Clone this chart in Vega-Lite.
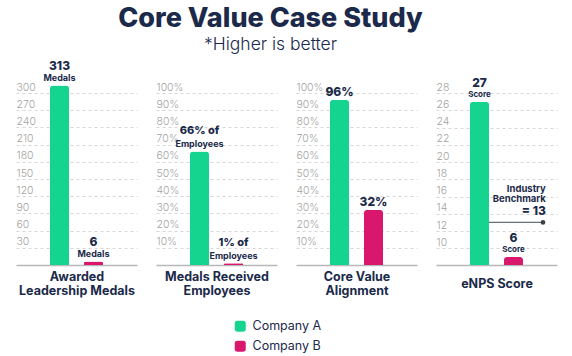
{
  "$schema": "https://vega.github.io/schema/vega-lite/v6.json",
  "background": "white",
  "padding": {"left": 16, "top": 5, "right": 10, "bottom": 0},
  "title": {
    "text": "Core Value Case Study",
    "subtitle": "*Higher is better",
    "anchor": "middle",
    "dx": -16,
    "font": "Inter",
    "fontSize": 27,
    "fontWeight": 800,
    "color": "#1B2A4A",
    "subtitleFont": "Inter",
    "subtitleFontSize": 17.5,
    "subtitleFontWeight": 300,
    "subtitleColor": "#1B2A4A",
    "subtitlePadding": 3,
    "offset": 5
  },
  "data": {
    "values": [
      {"panel": "medals", "company": "A", "value": 313, "line1": "313", "line2": "Medals"},
      {"panel": "medals", "company": "B", "value": 6, "line1": "6", "line2": "Medals"},
      {"panel": "received", "company": "A", "value": 66, "line1": "66% of", "line2": "Employees"},
      {"panel": "received", "company": "B", "value": 1, "line1": "1% of", "line2": "Employees"},
      {"panel": "alignment", "company": "A", "value": 96, "line1": "96%", "line2": ""},
      {"panel": "alignment", "company": "B", "value": 32, "line1": "32%", "line2": ""},
      {"panel": "enps", "company": "A", "value": 27, "line1": "27", "line2": "Score"},
      {"panel": "enps", "company": "B", "value": 6, "line1": "6", "line2": "Score"},
      {"panel": "bench", "from": "A", "to": "B", "value": 13, "line1": "= 13", "line2": "Industry\nBenchmark"}
    ]
  },
  "spacing": 19,
  "hconcat": [
    {
      "width": 121,
      "height": 172,
      "transform": [{"filter": "datum.panel === 'medals'"}],
      "encoding": {
        "x": {"field": "company", "type": "nominal", "scale": {"domain": ["A", "B"], "paddingInner": 0.44, "paddingOuter": 1.46}, "axis": {"title": ["Awarded", "Leadership Medals"], "titleY": 11}},
        "y": {"field": "value", "type": "quantitative", "scale": {"domain": [0, 300], "nice": false}, "axis": {"values": [30, 60, 90, 120, 150, 180, 210, 240, 270, 300], "title": null}}
      },
      "layer": [
        {
          "mark": {"type": "bar", "cornerRadiusTopLeft": 3, "cornerRadiusTopRight": 3},
          "encoding": {
            "color": {
              "field": "company", "type": "nominal",
              "scale": {"domain": ["A", "B"], "range": ["#14D48F", "#D9176C"]},
              "legend": {
                "orient": "none", "legendX": 218, "legendY": 227, "direction": "vertical", "title": null,
                "labelExpr": "'Company ' + datum.label",
                "symbolType": "M -0.55 -1 L 0.55 -1 Q 1 -1 1 -0.55 L 1 0.55 Q 1 1 0.55 1 L -0.55 1 Q -1 1 -1 0.55 L -1 -0.55 Q -1 -1 -0.55 -1 Z",
                "symbolSize": 121, "symbolStrokeWidth": 0, "symbolOpacity": 1,
                "labelFont": "Inter", "labelFontSize": 12.5, "labelColor": "#1B2A4A", "labelOffset": 6, "rowPadding": 7
              }
            }
          }
        },
        {"mark": {"type": "text", "dy": -20, "fontSize": 12, "fontWeight": 800, "color": "#1B2A4A"}, "encoding": {"text": {"field": "line1"}}},
        {"mark": {"type": "text", "dy": -7.5, "fontSize": 9, "fontWeight": 700, "color": "#1B2A4A"}, "encoding": {"text": {"field": "line2"}}}
      ]
    },
    {
      "width": 121,
      "height": 172,
      "transform": [{"filter": "datum.panel === 'received'"}],
      "encoding": {
        "x": {"field": "company", "type": "nominal", "scale": {"domain": ["A", "B"], "paddingInner": 0.44, "paddingOuter": 1.46}, "axis": {"title": ["Medals Received", "Employees"], "titleY": 11}},
        "y": {"field": "value", "type": "quantitative", "scale": {"domain": [0, 100], "nice": false}, "axis": {"values": [10, 20, 30, 40, 50, 60, 70, 80, 90, 100], "labelExpr": "datum.value + '%'", "title": null}}
      },
      "layer": [
        {"mark": {"type": "bar", "cornerRadiusTopLeft": 3, "cornerRadiusTopRight": 3}, "encoding": {"color": {"field": "company", "type": "nominal"}}},
        {"mark": {"type": "text", "dy": -20, "fontSize": 11, "fontWeight": 800, "color": "#1B2A4A"}, "encoding": {"text": {"field": "line1"}}},
        {"mark": {"type": "text", "dy": -7.5, "fontSize": 9, "fontWeight": 700, "color": "#1B2A4A"}, "encoding": {"text": {"field": "line2"}}}
      ]
    },
    {
      "width": 121,
      "height": 172,
      "transform": [{"filter": "datum.panel === 'alignment'"}],
      "encoding": {
        "x": {"field": "company", "type": "nominal", "scale": {"domain": ["A", "B"], "paddingInner": 0.44, "paddingOuter": 1.46}, "axis": {"title": ["Core Value", "Alignment"], "titleY": 11}},
        "y": {"field": "value", "type": "quantitative", "scale": {"domain": [0, 100], "nice": false}, "axis": {"values": [10, 20, 30, 40, 50, 60, 70, 80, 90, 100], "labelExpr": "datum.value + '%'", "title": null}}
      },
      "layer": [
        {"mark": {"type": "bar", "cornerRadiusTopLeft": 3, "cornerRadiusTopRight": 3}, "encoding": {"color": {"field": "company", "type": "nominal"}}},
        {"mark": {"type": "text", "dy": -7.5, "fontSize": 12, "fontWeight": 800, "color": "#1B2A4A"}, "encoding": {"text": {"field": "line1"}}}
      ]
    },
    {
      "width": 121,
      "height": 172,
      "encoding": {
        "x": {"field": "company", "type": "nominal", "scale": {"domain": ["A", "B"], "paddingInner": 0.44, "paddingOuter": 1.46}, "axis": {"title": "eNPS Score", "titleY": 18}},
        "y": {"field": "value", "type": "quantitative", "scale": {"domain": [0, 6, 10, 28], "range": [172, 164, 155.3, 0], "nice": false, "zero": false}, "axis": {"values": [10, 12, 14, 16, 18, 20, 22, 24, 26, 28], "title": null}}
      },
      "layer": [
        {"transform": [{"filter": "datum.panel === 'enps'"}], "mark": {"type": "bar", "cornerRadiusTopLeft": 3, "cornerRadiusTopRight": 3}, "encoding": {"color": {"field": "company", "type": "nominal"}}},
        {"transform": [{"filter": "datum.panel === 'enps'"}], "mark": {"type": "text", "dy": -19, "fontSize": 12, "fontWeight": 800, "color": "#1B2A4A"}, "encoding": {"text": {"field": "line1"}}},
        {"transform": [{"filter": "datum.panel === 'enps'"}], "mark": {"type": "text", "dy": -7, "fontSize": 8, "fontWeight": 700, "color": "#1B2A4A"}, "encoding": {"text": {"field": "line2"}}},
        {"transform": [{"filter": "datum.panel === 'bench'"}], "mark": {"type": "rule", "color": "#6B6F78", "strokeWidth": 1.2}, "encoding": {"x": {"field": "from", "type": "nominal", "bandPosition": 1}, "x2": {"field": "to", "bandPosition": 2.05}}},
        {"transform": [{"filter": "datum.panel === 'bench'"}], "mark": {"type": "point", "filled": true, "color": "#3A3F4A", "size": 22, "opacity": 1}, "encoding": {"x": {"field": "to", "type": "nominal", "bandPosition": 2.05}}},
        {"transform": [{"filter": "datum.panel === 'bench'"}], "mark": {"type": "text", "align": "right", "dy": -11, "fontSize": 12, "fontWeight": 800, "color": "#1B2A4A"}, "encoding": {"x": {"field": "to", "type": "nominal", "bandPosition": 2.2}, "text": {"field": "line1"}}},
        {"transform": [{"filter": "datum.panel === 'bench'"}], "mark": {"type": "text", "align": "right", "baseline": "middle", "dy": -33.5, "lineBreak": "\n", "lineHeight": 10.5, "fontSize": 9.5, "fontWeight": 700, "color": "#1B2A4A"}, "encoding": {"x": {"field": "to", "type": "nominal", "bandPosition": 2.2}, "text": {"field": "line2"}}}
      ]
    }
  ],
  "config": {
    "font": "Inter",
    "view": {"stroke": null},
    "text": {"font": "Inter", "baseline": "middle"},
    "axisY": {
      "domain": false, "ticks": false, "tickSize": 0, "labelAlign": "left", "labelPadding": 0, "labelBaseline": "alphabetic", "labelOffset": -3,
      "labelFont": "Inter", "labelFontSize": 10.5, "labelFontWeight": 300, "labelColor": "#A3A3A3",
      "grid": true, "gridDash": [3, 3], "gridColor": "#D6D6D6", "gridWidth": 1
    },
    "axisX": {
      "labels": false, "ticks": false, "domain": true, "domainColor": "#B8B8B8", "domainWidth": 1.5, "grid": false,
      "titleFont": "Inter", "titleFontSize": 12.5, "titleFontWeight": 700, "titleColor": "#1B2A4A", "titleBaseline": "middle", "titleLineHeight": 14
    }
  }
}
